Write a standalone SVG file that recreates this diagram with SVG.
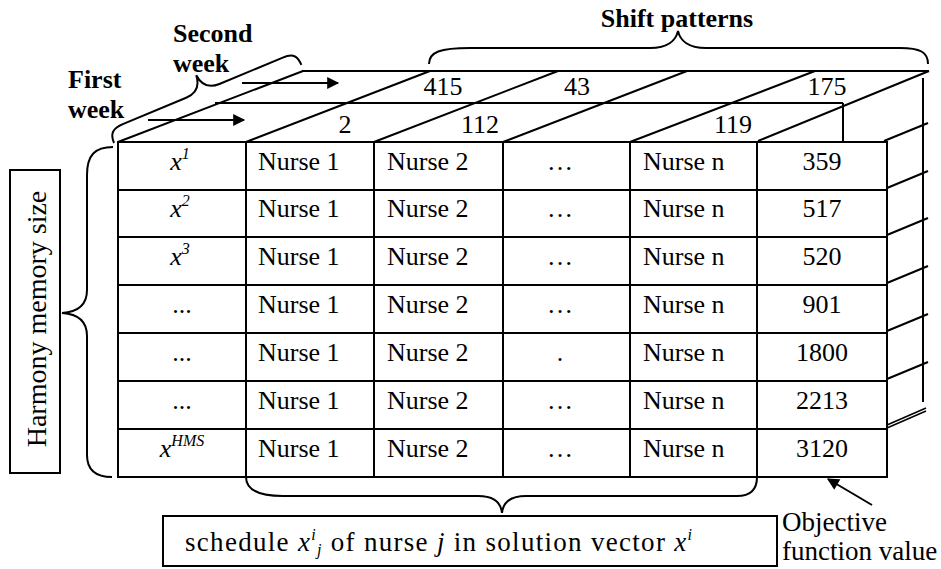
<svg xmlns="http://www.w3.org/2000/svg" width="941" height="569" viewBox="0 0 941 569" font-family="'Liberation Serif', 'Times New Roman', serif">
  <defs>
    <marker id="ah" viewBox="0 0 10 10" refX="9" refY="5" markerWidth="7" markerHeight="6" orient="auto" markerUnits="strokeWidth">
      <path d="M0,0 L10,5 L0,10 z" fill="#000"/>
    </marker>
    <style>
      .ln { stroke: #000; stroke-width: 2; fill: none; }
      .thin { stroke: #000; stroke-width: 1.5; fill: none; }
      .cell { stroke: #000; stroke-width: 2; fill: #fff; }
      text { fill: #000; }
      .t { font-size: 26px; }
      .c { text-anchor: middle; }
      .b { font-size: 26px; font-weight: bold; }
      .i { font-style: italic; }
      .sup { font-size: 16px; font-style: italic; }
    </style>
  </defs>

  <!-- back layers (second week and first week depth) -->
  <g id="depth">
    <line class="ln" x1="302" y1="71" x2="929" y2="71"/>
    <line class="ln" x1="215" y1="103" x2="843" y2="103"/>
    <line class="ln" x1="843" y1="103" x2="843" y2="142"/>
    <line class="ln" x1="923" y1="78" x2="923" y2="402"/>
    <line class="ln" x1="118" y1="142" x2="303" y2="71"/>
    <line class="ln" x1="246" y1="142" x2="430" y2="71"/>
    <line class="ln" x1="374" y1="142" x2="558" y2="71"/>
    <line class="ln" x1="503" y1="142" x2="687" y2="71"/>
    <line class="ln" x1="630" y1="142" x2="815" y2="71"/>
    <line class="ln" x1="758" y1="141" x2="929" y2="71"/>
    <line class="ln" x1="884" y1="141" x2="928" y2="123"/>
    <line class="ln" x1="887" y1="188" x2="928" y2="171"/>
    <line class="ln" x1="887" y1="235" x2="928" y2="218"/>
    <line class="ln" x1="887" y1="283" x2="928" y2="266"/>
    <line class="ln" x1="887" y1="331" x2="928" y2="314"/>
    <line class="ln" x1="887" y1="379" x2="928" y2="362"/>
    <line class="thin" x1="887" y1="425" x2="926" y2="408"/>
    <line class="thin" x1="887" y1="428" x2="926" y2="411"/>
    <text class="t c" x="345" y="133">2</text>
    <text class="t c" x="480" y="133">112</text>
    <text class="t c" x="733" y="133">119</text>
    <text class="t c" x="443" y="95">415</text>
    <text class="t c" x="577" y="95">43</text>
    <text class="t c" x="827" y="95">175</text>
  </g>

  <!-- harmony memory table -->
  <g id="memory">
    <rect class="cell" x="118" y="142" width="769" height="335"/>
    <g class="ln">
      <line x1="246" y1="142" x2="246" y2="477"/>
      <line x1="374" y1="142" x2="374" y2="477"/>
      <line x1="503" y1="142" x2="503" y2="477"/>
      <line x1="630" y1="142" x2="630" y2="477"/>
      <line x1="757" y1="142" x2="757" y2="477"/>
      <line x1="118" y1="190" x2="887" y2="190"/>
      <line x1="118" y1="237" x2="887" y2="237"/>
      <line x1="118" y1="285" x2="887" y2="285"/>
      <line x1="118" y1="333" x2="887" y2="333"/>
      <line x1="118" y1="381" x2="887" y2="381"/>
      <line x1="118" y1="429" x2="887" y2="429"/>
    </g>
    <!-- row labels -->
    <text class="t c" x="180" y="170"><tspan class="i">x</tspan><tspan class="sup" dy="-11">1</tspan></text>
    <text class="t c" x="180" y="217"><tspan class="i">x</tspan><tspan class="sup" dy="-11">2</tspan></text>
    <text class="t c" x="180" y="265"><tspan class="i">x</tspan><tspan class="sup" dy="-11">3</tspan></text>
    <text class="t c" x="182" y="313">...</text>
    <text class="t c" x="182" y="361">...</text>
    <text class="t c" x="182" y="409">...</text>
    <text class="t c" x="182" y="457"><tspan class="i">x</tspan><tspan class="sup" dy="-11">HMS</tspan></text>
    <!-- nurse columns -->
    <g class="t">
      <text x="258" y="170">Nurse 1</text><text x="387" y="170">Nurse 2</text><text class="c" x="560" y="170">…</text><text x="643" y="170">Nurse n</text>
      <text x="258" y="217">Nurse 1</text><text x="387" y="217">Nurse 2</text><text class="c" x="560" y="217">…</text><text x="643" y="217">Nurse n</text>
      <text x="258" y="265">Nurse 1</text><text x="387" y="265">Nurse 2</text><text class="c" x="560" y="265">…</text><text x="643" y="265">Nurse n</text>
      <text x="258" y="313">Nurse 1</text><text x="387" y="313">Nurse 2</text><text class="c" x="560" y="313">…</text><text x="643" y="313">Nurse n</text>
      <text x="258" y="361">Nurse 1</text><text x="387" y="361">Nurse 2</text><text class="c" x="560" y="361">.</text><text x="643" y="361">Nurse n</text>
      <text x="258" y="409">Nurse 1</text><text x="387" y="409">Nurse 2</text><text class="c" x="560" y="409">…</text><text x="643" y="409">Nurse n</text>
      <text x="258" y="457">Nurse 1</text><text x="387" y="457">Nurse 2</text><text class="c" x="560" y="457">…</text><text x="643" y="457">Nurse n</text>
    </g>
    <!-- objective values -->
    <g class="t c">
      <text x="822" y="170">359</text>
      <text x="822" y="217">517</text>
      <text x="822" y="265">520</text>
      <text x="822" y="313">901</text>
      <text x="822" y="361">1800</text>
      <text x="822" y="409">2213</text>
      <text x="822" y="457">3120</text>
    </g>
  </g>

  <!-- week labels -->
  <g id="weeks">
    <text class="b" x="173" y="42">Second</text>
    <text class="b" x="173" y="72">week</text>
    <text class="b" x="68" y="88">First</text>
    <text class="b" x="68" y="118">week</text>
  </g>

  <!-- shift patterns -->
  <g id="shift-patterns">
    <text class="b c" x="677" y="27">Shift patterns</text>
  </g>

  <!-- harmony memory size -->
  <g id="hms">
    <rect class="ln" x="10" y="170" width="50" height="303"/>
    <text class="c" font-size="28" transform="translate(46,319) rotate(-90)">Harmony memory size</text>
  </g>

  <!-- schedule label -->
  <g id="schedule">
    <rect class="ln" x="163" y="516" width="614" height="50"/>
    <text font-size="27" x="185" y="551" textLength="507" lengthAdjust="spacing">schedule <tspan class="i">x</tspan><tspan class="sup" dy="-11">i</tspan><tspan class="sup" dy="15">j</tspan><tspan dy="-4"> of nurse </tspan><tspan class="i">j</tspan> in solution vector <tspan class="i">x</tspan><tspan class="sup" dy="-11">i</tspan></text>
  </g>

  <!-- objective function value -->
  <g id="objective">
    <text font-size="27" x="782" y="531">Objective</text>
    <text font-size="27" x="782" y="560">function value</text>
  </g>

  <!-- braces and arrows -->
  <g id="connectors">
    <line class="ln" x1="148" y1="120" x2="244" y2="120" marker-end="url(#ah)"/>
    <line class="ln" x1="242" y1="83" x2="338" y2="83" marker-end="url(#ah)"/>
    <line class="ln" x1="872" y1="505" x2="828" y2="479" marker-end="url(#ah)"/>
    <!-- shift patterns brace -->
    <path class="ln" d="M429,64 C429,52 440,48 470,48 L650,48 C668,48 676,40 678,31 C680,40 688,48 706,48 L900,48 C920,48 928,52 928,64"/>
    <!-- week brace, drawn along the depth edge -->
    <path class="ln" transform="translate(114,143) rotate(-22.6)" d="M0,0 C0,-10 4,-14 16,-14 L84,-14 C96,-14 101,-20 102,-31 C103,-20 108,-14 120,-14 L188,-14 C200,-14 203,-10 203,0"/>
    <!-- harmony memory size brace -->
    <path class="ln" d="M113,147 C95,147 87,155 87,175 L87,290 C87,305 78,312 62,313 C78,314 87,321 87,336 L87,455 C87,470 95,477 112,477"/>
    <!-- schedule brace -->
    <path class="ln" d="M246,477 C246,490 258,496 283,496 L478,496 C495,496 501,503 502,513 C503,503 509,496 526,496 L737,496 C750,496 757,490 757,477"/>
  </g>
</svg>
